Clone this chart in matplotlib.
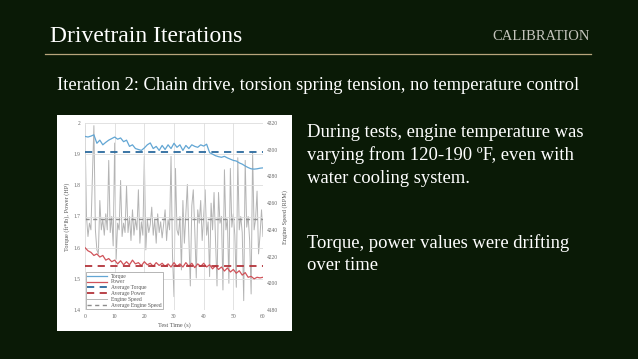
import numpy as np
import matplotlib
matplotlib.use("Agg")
import matplotlib.pyplot as plt
from matplotlib.patches import Rectangle

plt.rcParams['font.family'] = ['Liberation Serif', 'DejaVu Serif']

# torque / power, one sample per second
torque = [1.957, 1.955, 1.958, 1.962, 1.935, 1.945, 1.930, 1.938, 1.945, 1.950,
          1.955, 1.948, 1.952, 1.940, 1.945, 1.925, 1.930, 1.918, 1.915, 1.912,
          1.920, 1.930, 1.936, 1.918, 1.925, 1.912, 1.928, 1.915, 1.930, 1.918,
          1.935, 1.922, 1.930, 1.912, 1.928, 1.918, 1.930, 1.925, 1.922, 1.930,
          1.926, 1.932, 1.905, 1.900, 1.895, 1.892, 1.890, 1.893, 1.888, 1.884,
          1.880, 1.878, 1.872, 1.868, 1.862, 1.857, 1.853, 1.852, 1.853, 1.855,
          1.856]
power = [1.600, 1.590, 1.585, 1.575, 1.580, 1.570, 1.575, 1.560, 1.565, 1.555,
         1.560, 1.548, 1.558, 1.545, 1.555, 1.545, 1.560, 1.548, 1.552, 1.542,
         1.555, 1.545, 1.550, 1.540, 1.552, 1.543, 1.550, 1.540, 1.548, 1.538,
         1.552, 1.540, 1.548, 1.538, 1.552, 1.540, 1.550, 1.536, 1.548, 1.540,
         1.550, 1.538, 1.545, 1.532, 1.542, 1.530, 1.538, 1.525, 1.535, 1.522,
         1.530, 1.518, 1.526, 1.512, 1.520, 1.505, 1.508, 1.500, 1.505, 1.503,
         1.505]
test_time = np.arange(len(torque))

# engine speed, two samples per second
engine_rpm = [4318, 4250, 4235, 4245, 4240, 4280, 4318, 4240, 4225, 4222,
              4262, 4240, 4248, 4236, 4252, 4240, 4292, 4238, 4250, 4228,
              4305, 4218, 4245, 4240, 4277, 4235, 4245, 4238, 4273, 4238,
              4250, 4232, 4255, 4236, 4248, 4240, 4270, 4230, 4246, 4236,
              4295, 4225, 4248, 4238, 4244, 4257, 4236, 4248, 4230, 4252,
              4238, 4246, 4234, 4244, 4255, 4232, 4248, 4240, 4295, 4220,
              4190, 4286, 4240, 4236, 4250, 4210, 4262, 4230, 4252, 4274,
              4235, 4198, 4258, 4270, 4240, 4204, 4255, 4245, 4262, 4232,
              4250, 4270, 4236, 4246, 4205, 4260, 4240, 4268, 4232, 4198,
              4268, 4245, 4250, 4195, 4285, 4240, 4248, 4200, 4286, 4242,
              4252, 4236, 4197, 4294, 4240, 4250, 4238, 4187, 4292, 4242,
              4250, 4232, 4192, 4298, 4240, 4248, 4269, 4222, 4236, 4255,
              4235]
engine_time = np.linspace(0, 60, len(engine_rpm))

avg_torque = 1.906
avg_power = 1.542
avg_rpm = 4248

bg = '#0a1a06'
fig = plt.figure(figsize=(6.38, 3.59), dpi=100, facecolor=bg)
W, H = 638, 359

def fx(x):
    return x / W

def fy(y):
    return 1 - y / H

# slide header
fig.text(fx(50), fy(37), 'Drivetrain Iterations', color='white', fontsize=17, va='center', ha='left')
fig.text(fx(590), fy(36), 'CALIBRATION', color='#c4c4bc', fontsize=10.5, va='center', ha='right')
fig.add_artist(plt.Line2D([fx(45), fx(591)], [fy(54), fy(54)], color='#b8a57c', lw=0.9))
fig.text(fx(57), fy(85), 'Iteration 2: Chain drive, torsion spring tension, no temperature control',
         color='white', fontsize=13.3, va='center', ha='left')

# text on the right
for y, s in [(133, 'During tests, engine temperature was'),
             (155.5, 'varying from 120-190 ºF, even with'),
             (178, 'water cooling system.'),
             (243, 'Torque, power values were drifting'),
             (266, 'over time')]:
    fig.text(fx(307), fy(y), s, color='white', fontsize=13.4, va='center', ha='left')

# white picture background, behind the axes
fig.add_artist(Rectangle((fx(57), fy(331)), fx(292 - 57), (331 - 115) / H,
                         transform=fig.transFigure, facecolor='white', edgecolor='none',
                         zorder=-5))

ax = fig.add_axes([fx(85), fy(310), fx(263 - 85), (310 - 123) / H])
ax2 = ax.twinx()
ax.set_zorder(ax2.get_zorder() + 1)
ax.patch.set_visible(False)
ax2.patch.set_visible(False)

l_t, = ax.plot(test_time, torque, color='#62a6d4', lw=0.9, label='Torque')
l_p, = ax.plot(test_time, power, color='#d0535a', lw=0.9, label='Power')
l_at = ax.axhline(avg_torque, color='#2b6a9e', lw=1.3, ls=(0, (4, 3)), label='Average Torque')
l_ap = ax.axhline(avg_power, color='#b3343a', lw=1.3, ls=(0, (4, 3)), label='Average Power')
l_e, = ax2.plot(engine_time, engine_rpm, color='#b4b4b4', lw=0.7, label='Engine Speed')
l_ae = ax2.axhline(avg_rpm, color='#8c8c8c', lw=1.0, ls=(0, (3, 2.5)), label='Average Engine Speed')

ax.set_xlim(0, 60)
ax.set_ylim(1.4, 2.0)
ax2.set_ylim(4180, 4320)
ax.set_xticks(range(0, 61, 10))
ax.set_yticks([1.4, 1.5, 1.6, 1.7, 1.8, 1.9, 2.0])
ax.set_yticklabels(['1.4', '1.5', '1.6', '1.7', '1.8', '1.9', '2'])
ax2.set_yticks(range(4180, 4321, 20))
ax.grid(True, color='#dddddd', lw=0.6)

for a in (ax, ax2):
    a.tick_params(labelsize=4, colors='#666666', length=0, pad=3)
    for sp in a.spines.values():
        sp.set_visible(False)

ax.set_xlabel('Test Time (s)', fontsize=4.5, color='#555555', labelpad=2)
ax.set_ylabel('Torque (ft*lb), Power (HP)', fontsize=4.5, color='#555555', labelpad=3)
ax2.set_ylabel('Engine Speed (RPM)', fontsize=4.5, color='#555555', labelpad=3)

leg = ax.legend(handles=[l_t, l_p, l_at, l_ap, l_e, l_ae], loc='lower left', fontsize=4,
                frameon=True, fancybox=False, edgecolor='#999999', framealpha=1,
                borderpad=0.3, labelspacing=0.15, handlelength=3.5, borderaxespad=0.1)
leg.get_frame().set_linewidth(0.5)
for t in leg.get_texts():
    t.set_color('#555555')

fig.savefig('out.png', dpi=100, facecolor=bg)
